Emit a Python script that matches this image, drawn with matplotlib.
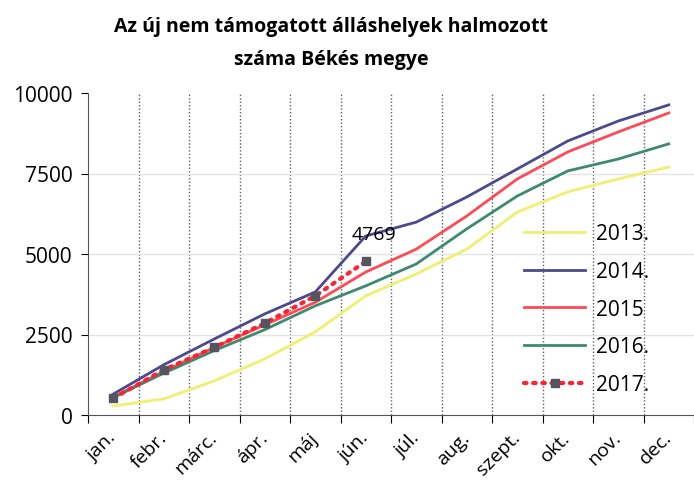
import matplotlib
matplotlib.use("Agg")
import matplotlib.pyplot as plt
import numpy as np

months = ["jan.", "febr.", "márc.", "ápr.", "máj", "jún.", "júl.",
          "aug.", "szept.", "okt.", "nov.", "dec."]

y2013 = [280, 500, 1060, 1740, 2580, 3700, 4380, 5150, 6300, 6930, 7330, 7700]
y2014 = [650, 1560, 2360, 3140, 3820, 5560, 5990, 6770, 7640, 8510, 9130, 9630]
y2015 = [560, 1350, 2100, 2800, 3500, 4440, 5150, 6180, 7330, 8170, 8790, 9380]
y2016 = [540, 1300, 2000, 2650, 3390, 4010, 4690, 5780, 6800, 7580, 7950, 8420]
y2017 = [520, 1400, 2100, 2850, 3700, 4769]

plt.rcParams["font.family"] = ["Open Sans", "DejaVu Sans"]

fig = plt.figure(figsize=(6.94, 4.81), dpi=100)
ax = fig.add_axes([88 / 694, 65 / 481, 606 / 694, 322 / 481])

x = np.arange(len(months))
ax.plot(x, y2013, color="#eef070", lw=2, label="2013.")
ax.plot(x, y2014, color="#4b4a8e", lw=2, label="2014.")
ax.plot(x, y2015, color="#ff4a55", lw=2, label="2015")
ax.plot(x, y2016, color="#3d8a70", lw=2, label="2016.")
x17 = x[:len(y2017)]
ax.plot(x17, y2017, color="#ff2030", lw=3, ls=(0, (0.6, 1.6)),
        dash_capstyle="round", marker="s", ms=6, mfc="#555560",
        mec="#555560", label="2017.")

ax.annotate(f"{y2017[-1]}", (x17[-1], y2017[-1]), xytext=(6, 13),
            textcoords="offset points", ha="center", va="bottom", fontsize=14)

ax.set_xlim(-0.5, 11.5)
ax.set_ylim(0, 10000)
ax.set_yticks([0, 2500, 5000, 7500, 10000])
ax.tick_params(axis="y", labelsize=15, length=5, direction="out", pad=6)

ax.set_xticks(np.arange(-0.5, 12, 1))
ax.set_xticklabels([])
ax.tick_params(axis="x", which="major", length=6, direction="out")
ax.set_xticks(x, minor=True)
ax.set_xticklabels(months, minor=True, rotation=45, ha="right", va="center",
                   rotation_mode="anchor", fontsize=14)
ax.tick_params(axis="x", which="minor", length=0, pad=14)

for b in np.arange(0.5, 11, 1):
    ax.axvline(b, color="#606060", lw=1, ls=(0, (1, 1.5)), zorder=0)
for v in [2500, 5000, 7500]:
    ax.axhline(v, color="#e4e4e4", lw=1, zorder=0)

for s in ["top", "right"]:
    ax.spines[s].set_visible(False)
ax.spines["left"].set_color("#555555")
ax.spines["bottom"].set_color("#555555")

ax.legend(loc="upper left", bbox_to_anchor=(0.72, 0.595), frameon=False,
          fontsize=15, handlelength=2.9, labelspacing=0.8, handletextpad=0.55,
          borderpad=0, borderaxespad=0)

fig.text(0.477, 0.965, "Az új nem támogatott álláshelyek halmozott\nszáma Békés megye",
         ha="center", va="top", fontsize=14, fontweight="bold",
         linespacing=1.9)

fig.savefig("out.png", dpi=100)
